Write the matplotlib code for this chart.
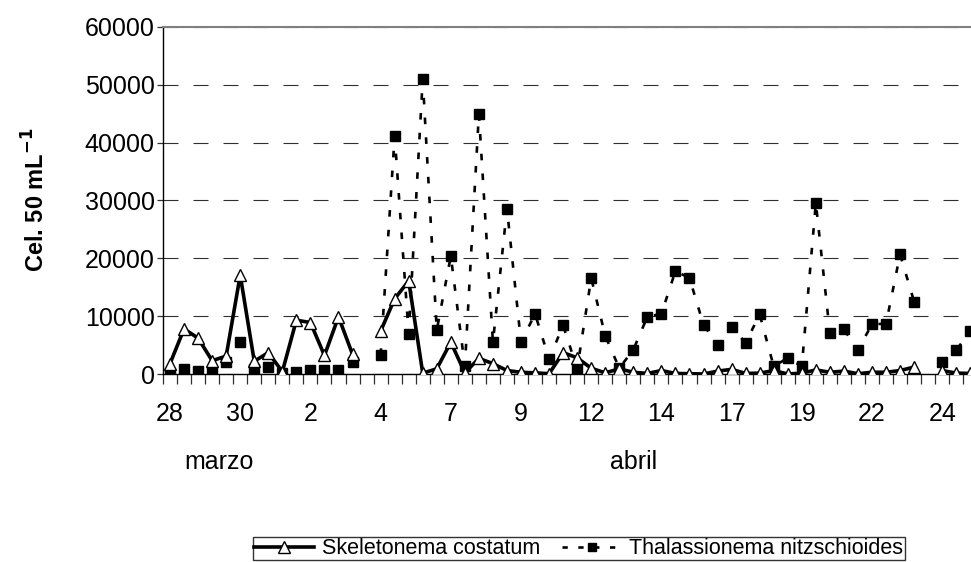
import numpy as np
import matplotlib
matplotlib.use("Agg")
from matplotlib import pyplot as plt
from matplotlib.lines import Line2D
from matplotlib.transforms import blended_transform_factory

plt.rcParams['font.family'] = ['Liberation Sans', 'DejaVu Sans']

# two samples per day, 28 March .. 25 April (None = no sample)
skeletonema = [1800, 7800, 6200, 2300, 3100, 17100, 2200, 3700, 400, 9300,
               8900, 3200, 9900, 3400, None, 7400, 13000, 16100, 150, 900,
               5500, 200, 2700, 1800, 600, 300, 200, 50, 3700, 2800,
               1000, 200, 900, 300, 100, 600, 100, 50, 0, 500,
               800, 100, 150, 600, 0, 150, 700, 300, 500, 50,
               300, 300, 600, 1200, None, 600, 150, 100]
thalassionema = [150, 800, 600, 400, 2000, 5600, 800, 1200, 200, 300,
                 700, 700, 700, 2000, None, 3300, 41200, 6900, 51000, 7600,
                 20400, 1300, 45000, 5500, 28600, 5500, 10400, 2600, 8400, 900,
                 16600, 6600, 1000, 4200, 9900, 10400, 17800, 16600, 8500, 5100,
                 8100, 5400, 10300, 1300, 2800, 1300, 29600, 7100, 7700, 4200,
                 8600, 8700, 20700, 12500, None, 2100, 4100, 7500]
# first samples of Thalassionema were plotted as points only
thal_line_start = 15

day_labels = ['28', '30', '2', '4', '7', '9', '12', '14', '17', '19', '22', '24']
day_pos = [0, 5, 10, 15, 20, 25, 30, 35, 40, 45, 50, 55]
months = ['marzo', 'abril']
month_pos = [3.5, 33]

ske = np.array([np.nan if v is None else v for v in skeletonema], dtype=float)
tha = np.array([np.nan if v is None else v for v in thalassionema], dtype=float)
x = np.arange(len(ske))

fig = plt.figure(figsize=(9.71, 5.62), dpi=100)
W, H = 971., 562.
ax = fig.add_axes([163 / W, 1 - 374 / H, (977.3 - 163) / W, 347 / H])

dash_style = (0, (2.5, 5))
ax.plot(x, tha, linestyle='none', marker='s', ms=7.5, color='black', zorder=3)
tx = x[thal_line_start:]
ax.plot(tx, tha[thal_line_start:], linestyle=dash_style, lw=1.9, color='black', zorder=3)
ax.plot(x, ske, '-', lw=2.6, color='black', marker='^', ms=8.5,
        mfc='white', mec='black', mew=1.0, zorder=4)

ax.set_xlim(-0.5, len(x) - 0.5)
ax.set_ylim(0, 60000)
ax.set_yticks(np.arange(0, 60001, 10000))
ax.yaxis.grid(True, linestyle=(0, (13.5, 13.5)), lw=0.8, color='#303030')
ax.set_axisbelow(True)

ax.set_xticks(day_pos)
ax.set_xticklabels(day_labels)
ax.set_xticks(np.arange(-0.5, len(x)), minor=True)
ax.tick_params(axis='x', which='major', length=0, pad=20, labelsize=18)
ax.tick_params(axis='x', which='minor', length=7, width=0.9, color='#303030')
ax.tick_params(axis='y', length=4, width=0.9, labelsize=18, pad=2, color='#303030')

tr = blended_transform_factory(ax.transData, ax.transAxes)
for m, p in zip(months, month_pos):
    ax.text(p, -0.254, m, transform=tr, ha='center', va='center', fontsize=18)

for s in ['left', 'bottom']:
    ax.spines[s].set_color('black')
    ax.spines[s].set_linewidth(1.0)
for s in ['top', 'right']:
    ax.spines[s].set_color('#808080')
    ax.spines[s].set_linewidth(1.5)

fig.text(36 / W, 1 - 200 / H, 'Cel. 50 mL$^{\\mathbf{-1}}$', rotation=90,
         ha='center', va='center', fontsize=17, fontweight='bold')

handles = [Line2D([], [], color='black', lw=2.6, marker='^', ms=8.5, mfc='white', mec='black'),
           Line2D([], [], color='black', lw=1.9, linestyle=(0, (2, 4)), marker='s', ms=6)]
leg = fig.legend(handles, ['Skeletonema costatum', 'Thalassionema nitzschioides'],
                 ncol=2, loc='upper left', bbox_to_anchor=(253 / W, 1 - 537 / H),
                 fontsize=15.5, frameon=True, fancybox=False, edgecolor='black',
                 handlelength=2.8, handletextpad=0.35, columnspacing=1.0,
                 borderpad=0.05, borderaxespad=0)
leg.get_frame().set_linewidth(1.0)

fig.savefig('out.png', dpi=100)
